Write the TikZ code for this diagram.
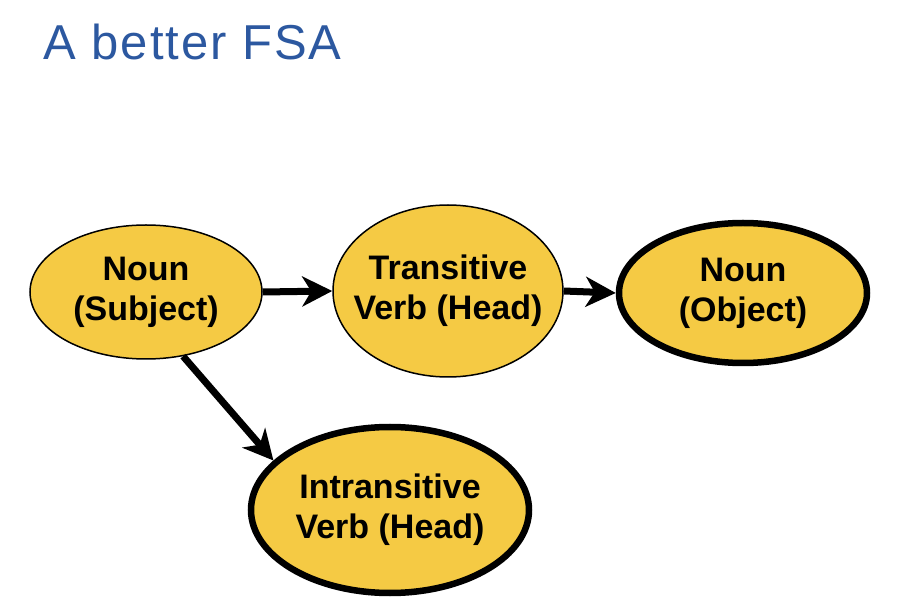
\documentclass[tikz,border=0pt]{standalone}
\usepackage{fontspec}
\setmainfont{Liberation Sans}
\newfontfamily\titlefont[LetterSpace=4]{Liberation Sans}
\usetikzlibrary{arrows.meta,shapes.geometric}
\definecolor{titleblue}{RGB}{44,88,160}
\definecolor{statefill}{RGB}{245,202,68}
\tikzset{
  state/.style={ellipse, fill=statefill, draw=black, line width=1.5pt, inner sep=0pt},
  final/.style={state, line width=6.5pt},
  statetext/.style={font=\bfseries\fontsize{34}{40}\selectfont, align=center, inner sep=0pt},
  trans/.style={line width=7pt, -{Stealth[length=30pt,width=30pt,inset=9pt]}}
}
\begin{document}
\begin{tikzpicture}[x=1pt,y=-1pt]
\useasboundingbox[fill=white] (0,0) rectangle (898,612);
\node[anchor=base west, text=titleblue, font=\titlefont\fontsize{49}{52}\selectfont] (title) at (40,60) {A better FSA};
\node[state, minimum width=232pt, minimum height=134pt] (subj) at (146,292) {};
\node[state, minimum width=230pt, minimum height=172pt] (tv) at (448,291) {};
\node[final, minimum width=248pt, minimum height=140pt] (obj) at (743,293) {};
\node[final, minimum width=278pt, minimum height=166pt] (iv) at (390,510) {};
\node[statetext] (subjt) at (subj.center) {Noun\\(Subject)};
\node[statetext] (tvt) at (tv.center) {Transitive\\Verb (Head)};
\node[statetext] (objt) at (obj.center) {Noun\\(Object)};
\node[statetext] (ivt) at (iv.center) {Intransitive\\Verb (Head)};
\draw[trans] (subj.east) -- (tv.west);
\draw[trans] (tv.east) -- (obj.west);
\draw[trans] (subj.-60) -- (iv.157);
\end{tikzpicture}
\end{document}
